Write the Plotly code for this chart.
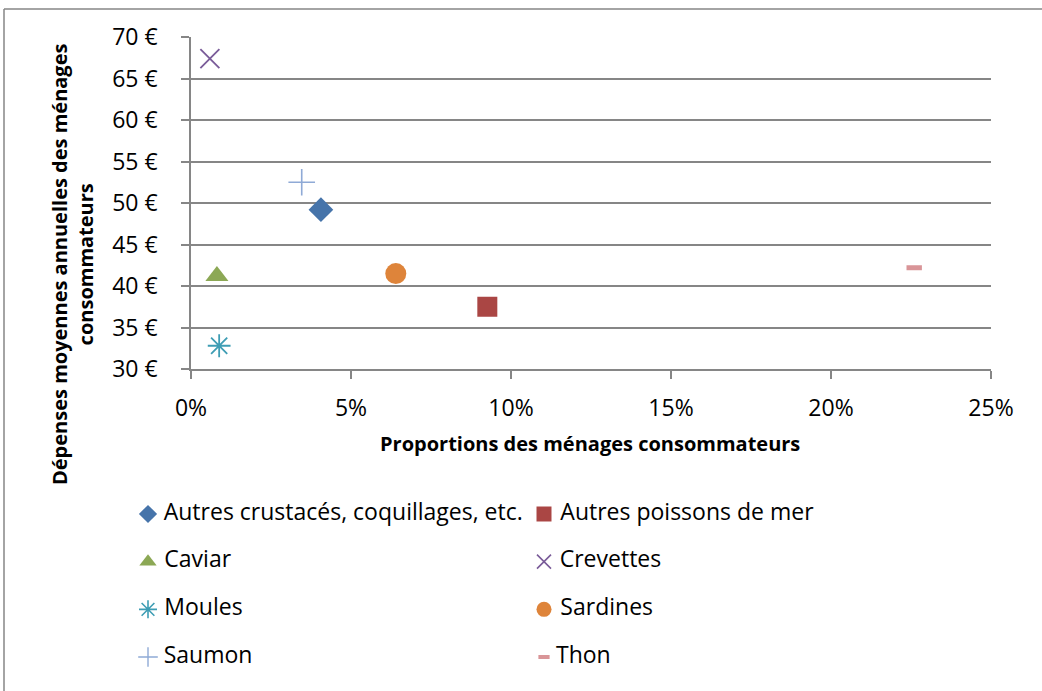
import plotly.graph_objects as go

# Seafood categories and their consumption figures
categories = [
    "Autres crustacés, coquillages, etc.",
    "Autres poissons de mer",
    "Caviar",
    "Crevettes",
    "Moules",
    "Sardines",
    "Saumon",
    "Thon",
]
proportion_pct = [4.06, 9.26, 0.81, 0.59, 0.88, 6.40, 3.46, 22.6]
depense_eur = [49.2, 37.5, 41.2, 67.4, 32.8, 41.5, 52.5, 42.2]

x_ticks = [0, 5, 10, 15, 20, 25]
x_tick_labels = ["0%", "5%", "10%", "15%", "20%", "25%"]
y_ticks = [30, 35, 40, 45, 50, 55, 60, 65, 70]
y_tick_labels = ["30 €", "35 €", "40 €", "45 €", "50 €", "55 €", "60 €", "65 €", "70 €"]

# Marker style per series
colors = ["#4674AA", "#AA4644", "#8CA855", "#7A5C99", "#3E9DB4", "#DE843A", "#8FAAD6", "#D99598"]
symbols = ["diamond", "square", "triangle-up", "x-thin-open", "asterisk-open",
           "circle", "cross-thin-open", "line-ew-open"]
plot_sizes = [19, 20, 20, 19, 19, 21, 19, 11]
plot_lw = [0, 0, 0, 1.8, 1.8, 0, 1.6, 5]
leg_sizes = [14, 15, 15, 14, 15, 15, 14, 8]
leg_lw = [0, 0, 0, 1.6, 1.6, 0, 1.4, 4]

FONT = "Open Sans"
GRID = "#868686"
W, H = 1042, 691


def px(x):
    return x / W


def py(y):
    return 1 - y / H


fig = go.Figure()

for i, name in enumerate(categories):
    fig.add_trace(go.Scatter(
        x=[proportion_pct[i]], y=[depense_eur[i]], mode="markers", name=name,
        showlegend=False,
        marker=dict(symbol=symbols[i], size=plot_sizes[i], color=colors[i],
                    line=dict(width=plot_lw[i], color=colors[i])),
        xaxis="x", yaxis="y",
    ))

# Legend laid out in two columns on its own hidden axes
for i, name in enumerate(categories):
    col, row = i % 2, i // 2
    fig.add_trace(go.Scatter(
        x=[col], y=[row], mode="markers+text", text=[" " + name],
        textposition="middle right", showlegend=False, hoverinfo="skip",
        textfont=dict(family=FONT, size=23, color="#000000"),
        marker=dict(symbol=symbols[i], size=leg_sizes[i], color=colors[i],
                    line=dict(width=leg_lw[i], color=colors[i])),
        xaxis="x2", yaxis="y2", cliponaxis=False,
    ))

axis_common = dict(
    showline=True, linecolor=GRID, linewidth=1.5, zeroline=False,
    ticks="outside", ticklen=8, tickwidth=1.5, tickcolor=GRID,
    automargin=False,
    tickfont=dict(family=FONT, size=23, color="#000000"),
)

fig.update_layout(
    width=W, height=H,
    margin=dict(l=0, r=0, t=0, b=0),
    paper_bgcolor="white", plot_bgcolor="white",
    font=dict(family=FONT, color="#000000"),
    xaxis=dict(domain=[px(191), px(991)], range=[0, 25], tickmode="array",
               tickvals=x_ticks, ticktext=x_tick_labels, ticklabelstandoff=10,
               showgrid=False, anchor="y", **axis_common),
    yaxis=dict(domain=[py(369), py(37)], range=[30, 70], tickmode="array",
               tickvals=y_ticks, ticktext=y_tick_labels, ticklabelstandoff=19,
               showgrid=True, gridcolor=GRID, gridwidth=1.5,
               anchor="x", **axis_common),
    xaxis2=dict(domain=[px(148), px(148 + 2 * 396)], range=[0, 2],
                visible=False, anchor="y2", fixedrange=True),
    yaxis2=dict(domain=[py(657), py(514)], range=[3, 0],
                visible=False, anchor="x2", fixedrange=True),
    showlegend=False,
)

# Axis titles
fig.add_annotation(
    text="<b>Proportions des ménages consommateurs</b>",
    xref="paper", yref="paper", x=px(590), y=py(443),
    showarrow=False, xanchor="center", yanchor="middle",
    font=dict(family=FONT, size=20, color="#000000"),
)
fig.add_annotation(
    text="<b>Dépenses moyennes annuelles des ménages<br>consommateurs</b>",
    xref="paper", yref="paper", x=px(72), y=py(265),
    textangle=-90, showarrow=False, xanchor="center", yanchor="middle",
    font=dict(family=FONT, size=20, color="#000000"),
)

# Chart frame (top and left edges)
fig.add_shape(type="line", xref="paper", yref="paper",
              x0=px(4), x1=1, y0=py(9), y1=py(9),
              line=dict(color=GRID, width=1.5))
fig.add_shape(type="line", xref="paper", yref="paper",
              x0=px(4), x1=px(4), y0=py(9), y1=0,
              line=dict(color=GRID, width=1.5))

fig.write_html("out.html")
